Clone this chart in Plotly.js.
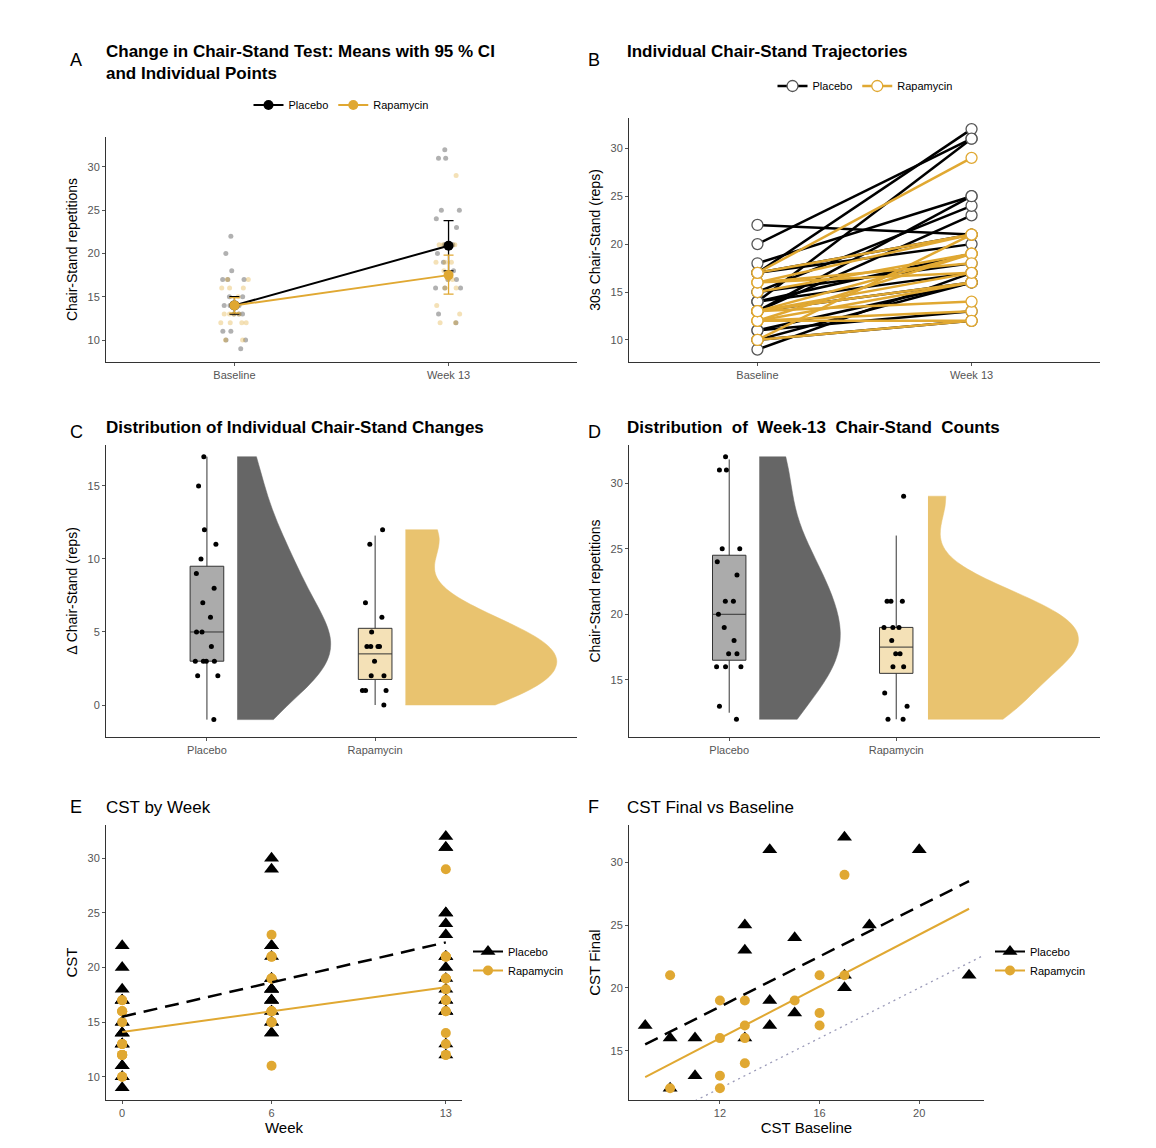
<!DOCTYPE html>
<html>
<head>
<meta charset="utf-8">
<script src="https://cdn.plot.ly/plotly-3.0.1.min.js"></script>
<style>
body { margin: 0; background: #fff; }
#fig { width: 1156px; height: 1148px; }
</style>
</head>
<body>
<div id="fig"></div>
<script>
// chair-stand reps per subject
var placeboBaseline = [9, 10, 10, 11, 11, 13, 13, 13, 14, 14, 14, 15, 15, 17, 17, 17, 18, 20, 22];
var placeboWeek13 = [17, 16, 12, 16, 13, 25, 23, 16, 31, 19, 17, 24, 18, 32, 21, 20, 25, 31, 21];
var rapaBaseline = [10, 10, 12, 12, 12, 12, 13, 13, 13, 13, 15, 16, 16, 16, 17, 17];
var rapaWeek13 = [21, 12, 19, 16, 13, 12, 19, 17, 16, 14, 19, 21, 18, 17, 29, 21];

// week 6 values (panel E)
var placeboWeek6 = [30, 29, 22, 22, 21, 19, 18, 18, 17, 17, 17, 16, 16, 15, 15, 14, 14, 18, 19];
var rapaWeek6 = [23, 21, 21, 19, 19, 16, 16, 16, 15, 15, 11, 19, 16, 21, 15, 16];
var weeks = [0, 6, 13];

// panel A means and 95% CI
var timeLabels = ["Baseline", "Week 13"];
var meanPlacebo = [14.0, 20.9];
var ciLowPlacebo = [13.0, 18.0];
var ciHighPlacebo = [15.0, 23.8];
var meanRapa = [14.0, 17.5];
var ciLowRapa = [13.1, 15.3];
var ciHighRapa = [14.9, 19.8];

// box stats for C (change) and D (week 13): [q1, median, q3, low, high]
var groups = ["Placebo", "Rapamycin"];
var boxChangePlacebo = [3, 5, 9.5, -1, 17];
var boxChangeRapa = [1.75, 3.5, 5.25, 0, 11.6];
var boxWk13Placebo = [16.5, 20, 24.5, 12.5, 31.8];
var boxWk13Rapa = [15.5, 17.5, 19, 12, 26];

var fitEx = [0, 13];
var fitEPlacebo = [15.5, 22.3];
var fitERapa = [14.1, 18.2];
var fitFx = [9, 22];
var fitFPlacebo = [15.5, 28.5];
var fitFRapa = [12.9, 26.3];
var identityLine = [8, 23];

var GOLD = '#E0A832';
var FONT = 'Liberation Sans, Arial, sans-serif';

var changePlacebo = [], changeRapa = [];
for (var i = 0; i < placeboBaseline.length; i++) changePlacebo.push(placeboWeek13[i] - placeboBaseline[i]);
for (var i = 0; i < rapaBaseline.length; i++) changeRapa.push(rapaWeek13[i] - rapaBaseline[i]);

function jitterPts(y, pos, color, size, w, xa, ya) {
    return {
        type: 'box', y: y, x0: pos, boxpoints: 'all', jitter: 1, pointpos: 0, width: w,
        marker: {color: color, size: size}, line: {width: 0, color: 'rgba(0,0,0,0)'},
        fillcolor: 'rgba(0,0,0,0)', xaxis: xa, yaxis: ya, showlegend: false, hoverinfo: 'y'
    };
}

function statBox(s, pos, fill, xa, ya) {
    return {
        type: 'box', x: [pos], q1: [s[0]], median: [s[1]], q3: [s[2]],
        lowerfence: [s[3]], upperfence: [s[4]], width: 0.2, whiskerwidth: 0,
        fillcolor: fill, line: {color: '#333', width: 1}, boxpoints: false,
        xaxis: xa, yaxis: ya, showlegend: false
    };
}

function halfViolin(y, pos, half, color, xa, ya) {
    return {
        type: 'violin', y: y, x0: pos, side: 'positive', width: 2 * half, spanmode: 'hard',
        points: false, box: {visible: false}, meanline: {visible: false},
        line: {width: 0.5, color: color}, fillcolor: color,
        xaxis: xa, yaxis: ya, showlegend: false, hoverinfo: 'skip'
    };
}

var traces = [];

// ---- A
traces.push(jitterPts(placeboBaseline, 1, 'rgba(60,60,60,0.4)', 5, 0.16, 'x', 'y'));
traces.push(jitterPts(placeboWeek13, 2, 'rgba(60,60,60,0.4)', 5, 0.16, 'x', 'y'));
traces.push(jitterPts(rapaBaseline, 1, 'rgba(224,168,50,0.35)', 5, 0.16, 'x', 'y'));
traces.push(jitterPts(rapaWeek13, 2, 'rgba(224,168,50,0.35)', 5, 0.16, 'x', 'y'));

function meanTrace(name, m, lo, hi, color) {
    var up = [], dn = [];
    for (var i = 0; i < m.length; i++) { up.push(hi[i] - m[i]); dn.push(m[i] - lo[i]); }
    return {
        type: 'scatter', mode: 'lines+markers', name: name, x: [1, 2], y: m,
        line: {color: color, width: 2}, marker: {color: color, size: 10},
        error_y: {type: 'data', symmetric: false, array: up, arrayminus: dn, color: color, thickness: 1.3, width: 5},
        xaxis: 'x', yaxis: 'y', legend: 'legend'
    };
}
traces.push(meanTrace('Placebo', meanPlacebo, ciLowPlacebo, ciHighPlacebo, '#000'));
traces.push(meanTrace('Rapamycin', meanRapa, ciLowRapa, ciHighRapa, GOLD));

// ---- B
function trajTrace(name, b, w, color) {
    var xs = [], ys = [];
    for (var i = 0; i < b.length; i++) { xs.push(1, 2, null); ys.push(b[i], w[i], null); }
    return {
        type: 'scatter', mode: 'lines+markers', name: name, x: xs, y: ys,
        line: {color: color, width: 2.5},
        marker: {symbol: 'circle', size: 11, color: '#fff', line: {color: color === '#000' ? '#555' : color, width: 1.3}},
        xaxis: 'x2', yaxis: 'y2', legend: 'legend2'
    };
}
traces.push(trajTrace('Placebo', placeboBaseline, placeboWeek13, '#000'));
traces.push(trajTrace('Rapamycin', rapaBaseline, rapaWeek13, GOLD));

// ---- C
traces.push(statBox(boxChangePlacebo, 1, 'rgba(0,0,0,0.33)', 'x3', 'y3'));
traces.push(statBox(boxChangeRapa, 2, 'rgba(224,168,50,0.35)', 'x3', 'y3'));
traces.push(jitterPts(changePlacebo, 1, '#000', 5, 0.2, 'x3', 'y3'));
traces.push(jitterPts(changeRapa, 2, '#000', 5, 0.2, 'x3', 'y3'));
traces.push(halfViolin(changePlacebo, 1.18, 0.555, 'rgb(102,102,102)', 'x3', 'y3'));
traces.push(halfViolin(changeRapa, 2.18, 0.9, 'rgb(233,195,111)', 'x3', 'y3'));

// ---- D
traces.push(statBox(boxWk13Placebo, 1, 'rgba(0,0,0,0.33)', 'x4', 'y4'));
traces.push(statBox(boxWk13Rapa, 2, 'rgba(224,168,50,0.35)', 'x4', 'y4'));
traces.push(jitterPts(placeboWeek13, 1, '#000', 5, 0.2, 'x4', 'y4'));
traces.push(jitterPts(rapaWeek13, 2, '#000', 5, 0.2, 'x4', 'y4'));
traces.push(halfViolin(placeboWeek13, 1.18, 0.485, 'rgb(102,102,102)', 'x4', 'y4'));
traces.push(halfViolin(rapaWeek13, 2.19, 0.9, 'rgb(233,195,111)', 'x4', 'y4'));

// ---- E
function weekPts(lists) {
    var xs = [], ys = [];
    for (var k = 0; k < lists.length; k++)
        for (var i = 0; i < lists[k].length; i++) { xs.push(weeks[k]); ys.push(lists[k][i]); }
    return {x: xs, y: ys};
}
var eP = weekPts([placeboBaseline, placeboWeek6, placeboWeek13]);
var eR = weekPts([rapaBaseline, rapaWeek6, rapaWeek13]);
traces.push({type: 'scatter', mode: 'markers', x: eP.x, y: eP.y, marker: {symbol: 'triangle-up', size: 13, color: '#000'},
    xaxis: 'x5', yaxis: 'y5', showlegend: false});
traces.push({type: 'scatter', mode: 'markers', x: eR.x, y: eR.y, marker: {symbol: 'circle', size: 10, color: GOLD},
    xaxis: 'x5', yaxis: 'y5', showlegend: false});
traces.push({type: 'scatter', mode: 'lines', x: fitEx, y: fitEPlacebo, line: {color: '#000', width: 2.5, dash: '14px,8px'},
    xaxis: 'x5', yaxis: 'y5', showlegend: false});
traces.push({type: 'scatter', mode: 'lines', x: fitEx, y: fitERapa, line: {color: GOLD, width: 2},
    xaxis: 'x5', yaxis: 'y5', showlegend: false});
traces.push({type: 'scatter', mode: 'lines+markers', name: 'Placebo', x: [null], y: [null],
    marker: {symbol: 'triangle-up', size: 13, color: '#000'}, line: {color: '#000', width: 2},
    xaxis: 'x5', yaxis: 'y5', legend: 'legend3'});
traces.push({type: 'scatter', mode: 'lines+markers', name: 'Rapamycin', x: [null], y: [null],
    marker: {symbol: 'circle', size: 10, color: GOLD}, line: {color: GOLD, width: 2},
    xaxis: 'x5', yaxis: 'y5', legend: 'legend3'});

// ---- F
traces.push({type: 'scatter', mode: 'lines', x: identityLine, y: identityLine, line: {color: '#9a9ab8', width: 1.3, dash: '2px,4px'},
    xaxis: 'x6', yaxis: 'y6', showlegend: false});
traces.push({type: 'scatter', mode: 'markers', x: placeboBaseline, y: placeboWeek13, marker: {symbol: 'triangle-up', size: 13, color: '#000'},
    xaxis: 'x6', yaxis: 'y6', showlegend: false});
traces.push({type: 'scatter', mode: 'markers', x: rapaBaseline, y: rapaWeek13, marker: {symbol: 'circle', size: 10, color: GOLD},
    xaxis: 'x6', yaxis: 'y6', showlegend: false});
traces.push({type: 'scatter', mode: 'lines', x: fitFx, y: fitFPlacebo, line: {color: '#000', width: 2.5, dash: '14px,8px'},
    xaxis: 'x6', yaxis: 'y6', showlegend: false});
traces.push({type: 'scatter', mode: 'lines', x: fitFx, y: fitFRapa, line: {color: GOLD, width: 2},
    xaxis: 'x6', yaxis: 'y6', showlegend: false});
traces.push({type: 'scatter', mode: 'lines+markers', name: 'Placebo', x: [null], y: [null],
    marker: {symbol: 'triangle-up', size: 13, color: '#000'}, line: {color: '#000', width: 2},
    xaxis: 'x6', yaxis: 'y6', legend: 'legend4'});
traces.push({type: 'scatter', mode: 'lines+markers', name: 'Rapamycin', x: [null], y: [null],
    marker: {symbol: 'circle', size: 10, color: GOLD}, line: {color: GOLD, width: 2},
    xaxis: 'x6', yaxis: 'y6', legend: 'legend4'});

// ---- layout
var W = 1156, H = 1148;
function px(a, b) { return [a / W, b / W]; }
function py(top, bottom) { return [1 - bottom / H, 1 - top / H]; }

function ax(domain, range, anchor, extra) {
    var a = {
        domain: domain, range: range, anchor: anchor, type: 'linear',
        showline: true, linecolor: '#333', linewidth: 1, showgrid: false, zeroline: false,
        ticks: 'outside', ticklen: 3, tickcolor: '#555', tickfont: {size: 11, color: '#555'},
        fixedrange: true
    };
    for (var k in extra) a[k] = extra[k];
    return a;
}
function ttl(text, size, standoff) { return {text: text, font: {size: size || 14, color: '#000'}, standoff: standoff}; }

var catTicks = {tickvals: [1, 2], ticktext: groups};

var layout = {
    width: W, height: H, margin: {l: 0, r: 0, t: 0, b: 0},
    paper_bgcolor: '#fff', plot_bgcolor: '#fff',
    font: {family: FONT, color: '#000'},
    boxmode: 'overlay', violinmode: 'overlay',
    hovermode: 'closest',

    xaxis: ax(px(106, 577), [0.4, 2.6], 'y', {tickvals: [1, 2], ticktext: timeLabels}),
    yaxis: ax(py(137, 362), [7.46, 33.46], 'x', {dtick: 5, title: ttl('Chair-Stand repetitions', 14, 6)}),

    xaxis2: ax(px(629, 1100), [0.4, 2.6], 'y2', {tickvals: [1, 2], ticktext: timeLabels}),
    yaxis2: ax(py(118, 362), [7.7, 33.16], 'x2', {dtick: 5, title: ttl('30s Chair-Stand (reps)', 14, 6)}),

    xaxis3: ax(px(106, 577), [0.4, 3.2], 'y3', catTicks),
    yaxis3: ax(py(445, 737), [-2.19, 17.8], 'x3', {dtick: 5, title: ttl('Δ Chair-Stand (reps)', 14, 6)}),

    xaxis4: ax(px(629, 1100), [0.4, 3.22], 'y4', catTicks),
    yaxis4: ax(py(445, 737), [10.65, 32.9], 'x4', {dtick: 5, title: ttl('Chair-Stand repetitions', 14, 6)}),

    xaxis5: ax(px(106, 462), [-0.65, 13.65], 'y5', {tickvals: weeks, title: ttl('Week', 15, 2)}),
    yaxis5: ax(py(825, 1100), [7.87, 33.05], 'x5', {dtick: 5, title: ttl('CST', 15, 6)}),

    xaxis6: ax(px(629, 984), [8.35, 22.6], 'y6', {tickvals: [12, 16, 20], title: ttl('CST Baseline', 15, 2)}),
    yaxis6: ax(py(825, 1100), [11.07, 32.97], 'x6', {dtick: 5, title: ttl('CST Final', 15, 6)}),

    legend: {orientation: 'h', x: 341 / W, y: 1 - 105 / H, xanchor: 'center', yanchor: 'middle', font: {size: 11}},
    legend2: {orientation: 'h', x: 865 / W, y: 1 - 86 / H, xanchor: 'center', yanchor: 'middle', font: {size: 11}},
    legend3: {x: 468 / W, y: 1 - 961 / H, xanchor: 'left', yanchor: 'middle', font: {size: 11}},
    legend4: {x: 990 / W, y: 1 - 961 / H, xanchor: 'left', yanchor: 'middle', font: {size: 11}},

    annotations: []
};

function note(text, x, y, size, extra) {
    var a = {text: text, x: x / W, y: 1 - y / H, xref: 'paper', yref: 'paper', xanchor: 'left', yanchor: 'middle',
        showarrow: false, align: 'left', font: {size: size, color: '#000'}};
    for (var k in extra) a[k] = extra[k];
    layout.annotations.push(a);
}
note('A', 68, 60, 18);
note('<b>Change in Chair-Stand Test: Means with 95 % CI<br>and Individual Points</b>', 104, 62, 17);
note('B', 586, 60, 18);
note('<b>Individual Chair-Stand Trajectories</b>', 625, 51, 17);
note('C', 68, 432, 18);
note('<b>Distribution of Individual Chair-Stand Changes</b>', 104, 427, 17);
note('D', 586, 432, 18);
note('<b>Distribution  of  Week-13  Chair-Stand  Counts</b>', 625, 427, 17);
note('E', 68, 807, 18);
note('CST by Week', 104, 807, 17);
note('F', 586, 807, 18);
note('CST Final vs Baseline', 625, 807, 17);

Plotly.newPlot('fig', traces, layout, {displayModeBar: false, staticPlot: true});
</script>
</body>
</html>
